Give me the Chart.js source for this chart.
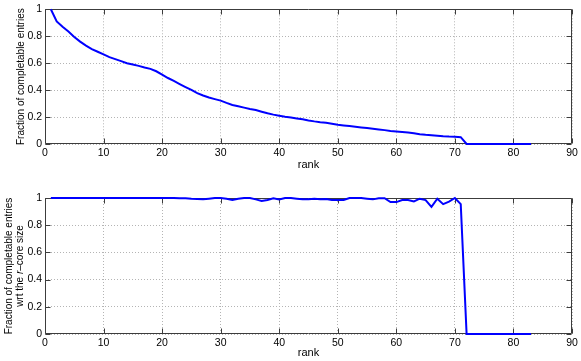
<!DOCTYPE html>
<html><head><meta charset="utf-8">
<script src="https://cdn.jsdelivr.net/npm/chart.js@4"></script>
<style>
html,body{margin:0;padding:0;background:#fff;width:581px;height:361px;overflow:hidden}
canvas{position:absolute;left:0}
</style></head>
<body>
<canvas id="c1" width="581" height="180" style="top:0px"></canvas>
<canvas id="c2" width="581" height="181" style="top:180px"></canvas>
<script>
const ranks = [1,2,3,4,5,6,7,8,9,10,11,12,13,14,15,16,17,18,19,20,
  21,22,23,24,25,26,27,28,29,30,31,32,33,34,35,36,37,38,39,40,
  41,42,43,44,45,46,47,48,49,50,51,52,53,54,55,56,57,58,59,60,
  61,62,63,64,65,66,67,68,69,70,71,72,73,74,75,76,77,78,79,80,81,82,83];
const fracCompletable = [1.0,0.91,0.87,0.835,0.795,0.76,0.73,0.705,0.685,0.665,
  0.645,0.63,0.615,0.60,0.59,0.58,0.568,0.558,0.54,0.515,
  0.49,0.468,0.445,0.423,0.402,0.378,0.36,0.345,0.333,0.322,
  0.305,0.29,0.28,0.27,0.26,0.252,0.24,0.228,0.218,0.21,
  0.202,0.197,0.19,0.183,0.175,0.168,0.162,0.157,0.15,0.143,
  0.138,0.133,0.128,0.123,0.118,0.113,0.108,0.103,0.097,0.093,
  0.089,0.085,0.08,0.073,0.068,0.065,0.062,0.058,0.055,0.053,
  0.051,0,0,0,0,0,0,0,0,0,0,0,0];
const fracCore = [1,1,1,1,1,1,1,1,1,1,1,1,1,1,1,1,1,1,1,1,
  1,1,0.998,0.998,0.995,0.993,0.99,0.995,1,1,
  0.995,0.985,0.995,1,1,0.99,0.978,0.985,0.998,0.99,
  1,1,0.995,0.99,0.99,0.995,0.99,0.993,0.985,0.985,
  0.985,1,1,1,0.995,0.99,0.998,0.998,0.97,0.97,
  0.985,0.985,0.975,0.995,0.985,0.935,0.995,0.955,0.973,1,
  0.955,0,0,0,0,0,0,0,0,0,0,0,0];
const xTickValues = [0,10,20,30,40,50,60,70,80,90];
const yTickValues = [0,0.2,0.4,0.6,0.8,1];
const yTickLabels = ['0','0.2','0.4','0.6','0.8','1'];
const xTitle = 'rank';
const yTitleTop = 'Fraction of completable entries';
const yTitleBottom = [[['Fraction of completable entries', false]],
                      [['wrt the ', false], ['r', true], ['\u2013core size', false]]];

const FONT = "'Liberation Sans', Arial, Helvetica, sans-serif";
Chart.defaults.color = '#000';
Chart.defaults.font.family = FONT;

const framePlugin = {
  id: 'frame',
  beforeDatasetsDraw(chart) {
    const {ctx, chartArea: a, scales: {x, y}} = chart;
    ctx.save();
    ctx.strokeStyle = '#3c3c3c';
    ctx.lineWidth = 1;
    const L = Math.round(a.left) + 0.5, R = Math.round(a.right) - 0.5;
    const T = Math.round(a.top) + 0.5, B = Math.round(a.bottom) - 0.5;
    ctx.beginPath();
    ctx.rect(L, T, R - L, B - T);
    x.ticks.forEach(t => {
      const px = Math.round(x.getPixelForValue(t.value)) + 0.5;
      ctx.moveTo(px, B); ctx.lineTo(px, B - 5);
      ctx.moveTo(px, T); ctx.lineTo(px, T + 5);
    });
    y.ticks.forEach(t => {
      const py = Math.round(y.getPixelForValue(t.value)) + 0.5;
      ctx.moveTo(L, py); ctx.lineTo(L + 5, py);
      ctx.moveTo(R, py); ctx.lineTo(R - 5, py);
    });
    ctx.stroke();
    ctx.restore();
  }
};

const richTitlePlugin = {
  id: 'richTitle',
  afterDraw(chart, args, opts) {
    if (!opts.lines) return;
    const {ctx, chartArea: a} = chart;
    const cy = (a.top + a.bottom) / 2;
    ctx.save();
    ctx.fillStyle = '#000';
    ctx.textBaseline = 'middle';
    ctx.textAlign = 'left';
    opts.lines.forEach((parts, i) => {
      const cx = opts.x + i * opts.lineHeight;
      let total = 0;
      const widths = parts.map(([t, it]) => {
        ctx.font = (it ? 'italic ' : '') + opts.size + 'px ' + FONT;
        const w = ctx.measureText(t).width; total += w; return w;
      });
      ctx.save();
      ctx.translate(cx, cy);
      ctx.rotate(-Math.PI / 2);
      let pos = -total / 2;
      parts.forEach(([t, it], k) => {
        ctx.font = (it ? 'italic ' : '') + opts.size + 'px ' + FONT;
        ctx.fillText(t, pos, 0);
        pos += widths[k];
      });
      ctx.restore();
    });
    ctx.restore();
  }
};

function makeChart(id, values, cfg) {
  return new Chart(document.getElementById(id), {
    type: 'line',
    data: {
      labels: ranks,
      datasets: [{
        data: ranks.map((r, i) => ({x: r, y: values[i]})),
        borderColor: '#0000ff',
        borderWidth: 2,
        pointRadius: 0,
        tension: 0,
        fill: false,
        clip: false
      }]
    },
    options: {
      responsive: false,
      animation: false,
      events: [],
      layout: {padding: {left: 0, right: 9, top: cfg.top, bottom: 0}},
      plugins: {
        legend: {display: false},
        tooltip: {enabled: false},
        richTitle: cfg.rich || {}
      },
      scales: {
        x: {
          type: 'linear', min: 0, max: 90,
          afterBuildTicks: s => { s.ticks = xTickValues.map(v => ({value: v})); },
          afterFit: s => { s.height = cfg.xh; },
          ticks: {font: {size: 10.5}, padding: 3, maxRotation: 0, autoSkip: false},
          grid: {color: '#b4b4b4', lineWidth: 1, drawTicks: false},
          border: {display: false, dash: [1, 2]},
          title: {display: true, text: xTitle, font: {size: 11, lineHeight: 1.2},
                  padding: {top: 0, bottom: cfg.xtp}}
        },
        y: {
          type: 'linear', min: 0, max: 1,
          afterBuildTicks: s => { s.ticks = yTickValues.map(v => ({value: v})); },
          afterFit: s => { s.width = 45; },
          ticks: {font: {size: 10.5}, padding: 3, autoSkip: false,
                  callback: (v, i) => yTickLabels[i]},
          grid: {color: '#b4b4b4', lineWidth: 1, drawTicks: false},
          border: {display: false, dash: [1, 2]},
          title: cfg.yTitle
        }
      }
    },
    plugins: [framePlugin, richTitlePlugin]
  });
}

makeChart('c1', fracCompletable, {
  top: 8, xh: 36, xtp: 8.4,
  yTitle: {display: true, text: yTitleTop, font: {size: 10, lineHeight: 1.2}, padding: {top: 15, bottom: 0}}
});
makeChart('c2', fracCore, {
  top: 18, xh: 27, xtp: 1.4,
  yTitle: {display: false},
  rich: {lines: yTitleBottom, x: 9, lineHeight: 11.5, size: 10}
});
</script>
</body></html>
